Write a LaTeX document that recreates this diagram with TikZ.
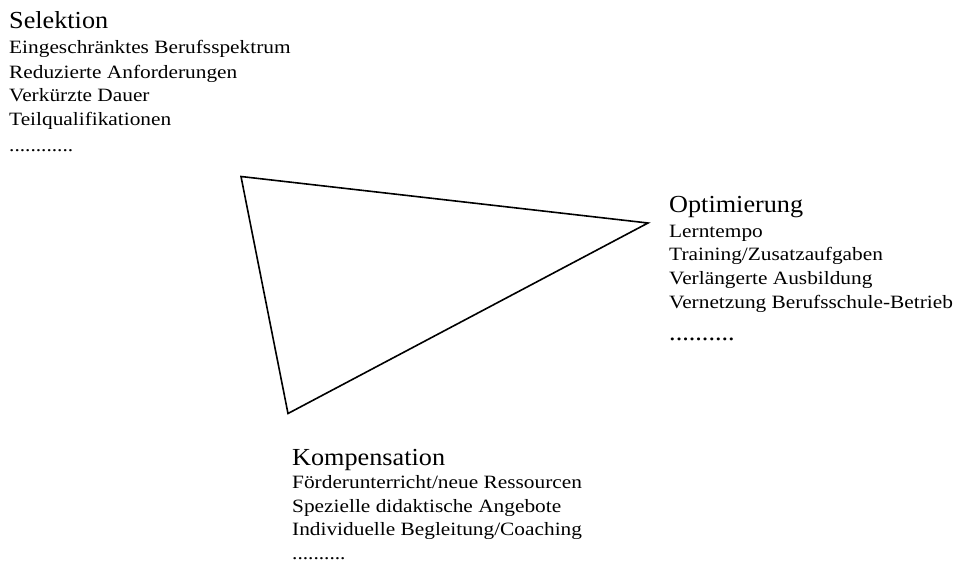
\documentclass[tikz,border=0pt]{standalone}
\usepackage{fontspec}
\setmainfont{Liberation Serif}
\newfontfamily\titlefont[FakeStretch=1.07]{Liberation Serif}
\newfontfamily\bodyfont[FakeStretch=1.135]{Liberation Serif}
\begin{document}
\begin{tikzpicture}[x=1pt,y=-1pt,
  ttl/.style={anchor=base west,inner sep=0pt,font=\titlefont\fontsize{24.5}{28}\selectfont},
  bdy/.style={anchor=base west,inner sep=0pt,font=\bodyfont\fontsize{18.8}{22}\selectfont},
  edge/.style={draw=black,line width=1.6pt,line join=miter}]
\useasboundingbox (0,0) rectangle (960,565);
% Selektion
\node[ttl] (s0) at (9,28) {Selektion};
\node[bdy] (s1) at (9,53.5) {Eingeschränktes Berufsspektrum};
\node[bdy] (s2) at (9,78) {Reduzierte Anforderungen};
\node[bdy] (s3) at (9,101.7) {Verkürzte Dauer};
\node[bdy] (s4) at (9,125.5) {Teilqualifikationen};
\node[bdy] (s5) at (9,151) {............};
% Optimierung
\node[ttl] (o0) at (669,212.7) {Optimierung};
\node[bdy] (o1) at (669,237) {Lerntempo};
\node[bdy] (o2) at (669,260.7) {Training/Zusatzaufgaben};
\node[bdy] (o3) at (669,284.5) {Verlängerte Ausbildung};
\node[bdy] (o4) at (669,308) {Vernetzung Berufsschule-Betrieb};
\node[ttl] (o5) at (669,340) {..........};
% Kompensation
\node[ttl] (k0) at (292,465) {Kompensation};
\node[bdy] (k1) at (292,488.5) {Förderunterricht/neue Ressourcen};
\node[bdy] (k2) at (292,512) {Spezielle didaktische Angebote};
\node[bdy] (k3) at (292,535.5) {Individuelle Begleitung/Coaching};
\node[bdy] (k4) at (292,559) {..........};
% triangle
\coordinate (S) at (241,176.5);
\coordinate (O) at (648,223);
\coordinate (K) at (288,413.5);
\draw[edge] (S) -- (O) -- (K) -- cycle;
\end{tikzpicture}
\end{document}
